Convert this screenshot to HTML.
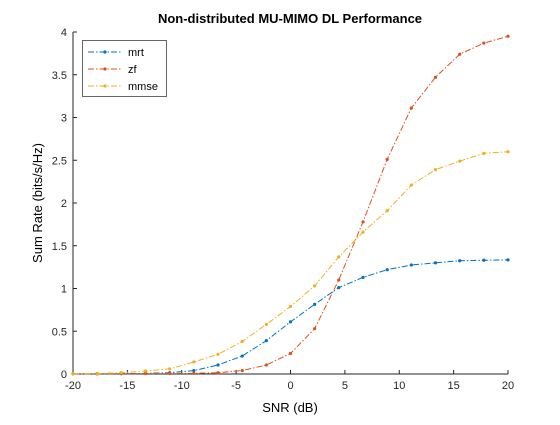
<!DOCTYPE html>
<html><head><meta charset="utf-8"><style>
body{margin:0;background:#fff;}
svg text{font-family:"Liberation Sans",sans-serif;}
</style></head><body>
<svg id="c" width="560" height="420" xmlns="http://www.w3.org/2000/svg">
<rect width="560" height="420" fill="#fff"/>
<rect x="73" y="32" width="435" height="342" fill="#fff"/>
<g id="grid"></g>
<g id="series"></g>
<text x="290" y="23" text-anchor="middle" font-size="13" font-weight="bold">Non-distributed MU-MIMO DL Performance</text>
<text x="290" y="412" text-anchor="middle" font-size="13">SNR (dB)</text>
<text transform="translate(42,203) rotate(-90)" text-anchor="middle" font-size="13">Sum Rate (bits/s/Hz)</text>
<g>
<rect x="82.5" y="40.5" width="84" height="56" fill="#fff" stroke="#262626" stroke-width="0.7"/>
<g id="legend"></g>
</g>
</svg>
<script>
const snr = [-20,-17.78,-15.56,-13.33,-11.11,-8.89,-6.67,-4.44,-2.22,0,2.22,4.44,6.67,8.89,11.11,13.33,15.56,17.78,20];
const mrt = [0.003,0.004,0.005,0.007,0.015,0.04,0.105,0.21,0.39,0.61,0.815,1.01,1.13,1.22,1.275,1.30,1.325,1.33,1.335];
const zf = [0.002,0.002,0.003,0.004,0.006,0.008,0.015,0.04,0.105,0.24,0.53,1.10,1.78,2.51,3.11,3.47,3.74,3.87,3.95];
const mmse = [0.003,0.006,0.015,0.035,0.06,0.14,0.23,0.38,0.58,0.79,1.03,1.37,1.66,1.91,2.21,2.39,2.49,2.58,2.60];
const xTicks = [-20,-15,-10,-5,0,5,10,15,20];
const yTicks = [0,0.5,1,1.5,2,2.5,3,3.5,4];
const yTickLabels = ["0","0.5","1","1.5","2","2.5","3","3.5","4"];
const seriesNames = ["mrt","zf","mmse"];
const colors = ["#0072BD","#D95319","#EDB120"];
const X0=73,X1=508,Y0=374,Y1=32;
function xs(v){return X0+(v+20)/40*(X1-X0);}
function ys(v){return Y0-v/4*(Y0-Y1);}
const NS="http://www.w3.org/2000/svg";
function mk(t,a,p){const e=document.createElementNS(NS,t);for(const k in a)e.setAttribute(k,a[k]);p.appendChild(e);return e;}
const g=document.getElementById('grid');
mk('path',{d:`M${X0} ${Y1}V${Y0}H${X1}`,fill:'none',stroke:'#262626','stroke-width':1},g);
xTicks.forEach(t=>{const x=xs(t);
const l=mk('line',{x1:x,x2:x,y1:Y0,y2:Y0-4,stroke:'#262626'},g);


const tx=mk('text',{x:x,y:Y0+15,'text-anchor':'middle','font-size':11,fill:'#262626'},g);tx.textContent=t;

});
yTicks.forEach((t,i)=>{const y=ys(t);
const l=mk('line',{x1:X0,x2:X0+4,y1:y,y2:y,stroke:'#262626'},g);


const tx=mk('text',{x:X0-6,y:y+4,'text-anchor':'end','font-size':11,fill:'#262626'},g);tx.textContent=yTickLabels[i];

});
const s=document.getElementById('series');
[mrt,zf,mmse].forEach((d,i)=>{
const p=mk('polyline',{points:d.map((v,j)=>xs(snr[j])+','+ys(v)).join(' '),fill:'none',stroke:colors[i],'stroke-width':1,'stroke-dasharray':'6 2 1.5 2'},s);


d.forEach((v,j)=>{const c=mk('circle',{cx:xs(snr[j]),cy:ys(v),r:1.6,fill:colors[i]},s);

});});
const lg=document.getElementById('legend');
seriesNames.forEach((n,i)=>{const y=52+i*17;
const l=mk('line',{x1:88,x2:122,y1:y,y2:y,stroke:colors[i],'stroke-dasharray':'6 2 1.5 2'},lg);


mk('circle',{cx:105,cy:y,r:1.6,fill:colors[i]},lg);
const t=mk('text',{x:128,y:y+4,'font-size':11,fill:'#000'},lg);t.textContent=n;

});
</script>
</body></html>
